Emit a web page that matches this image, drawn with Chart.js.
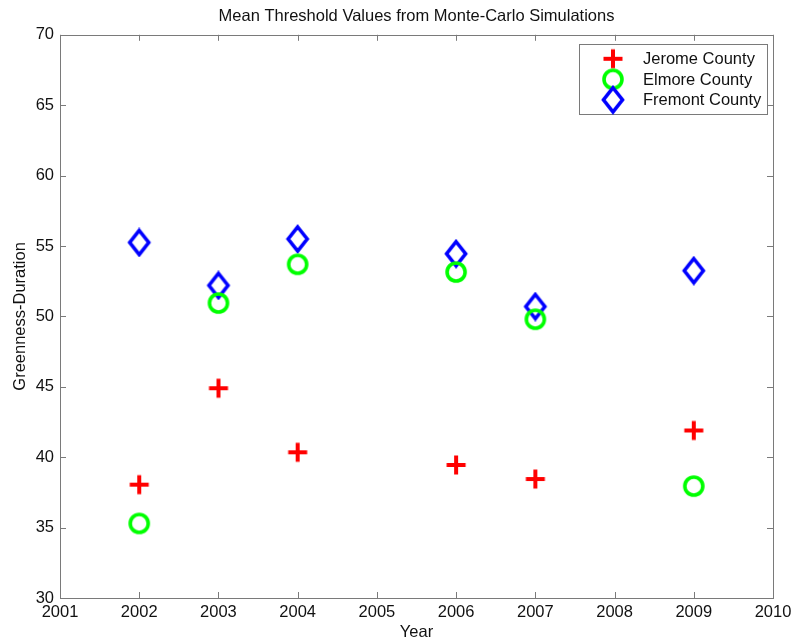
<!DOCTYPE html>
<html>
<head>
<meta charset="utf-8">
<script src="https://cdn.jsdelivr.net/npm/chart.js@4/dist/chart.umd.min.js"></script>
<style>
  html, body { margin: 0; padding: 0; background: #fff; }
  #wrap { width: 793px; height: 642px; }
</style>
</head>
<body>
<div id="wrap"><canvas id="chart" width="793" height="642"></canvas></div>
<script>
// Survey years and mean threshold values (greenness-duration) per county
const jeromeYears  = [2002, 2003, 2004, 2006, 2007, 2009];
const jeromeValues = [38.05, 44.9, 40.35, 39.45, 38.45, 41.9];
const elmoreYears  = [2002, 2003, 2004, 2006, 2007, 2009];
const elmoreValues = [35.3, 50.95, 53.7, 53.15, 49.8, 37.95];
const fremontYears  = [2002, 2003, 2004, 2006, 2007, 2009];
const fremontValues = [55.25, 52.2, 55.5, 54.45, 50.7, 53.25];

const seriesNames = ['Jerome County', 'Elmore County', 'Fremont County'];
const chartTitle = 'Mean Threshold Values from Monte-Carlo Simulations';
const xTitle = 'Year';
const yTitle = 'Greenness-Duration';
const xRange = [2001, 2010];
const yRange = [30, 70];

const FONT = '"Liberation Sans", Arial, Helvetica, sans-serif';
const FONT_SIZE = 16.5;
const AXIS_GRAY = '#7a7a7a';

// Marker glyphs drawn onto small canvases and used as point styles
function makeMarker(kind, color) {
  const c = document.createElement('canvas');
  const w = kind === 'diamond' ? 26 : 24;
  const h = kind === 'diamond' ? 30 : 24;
  c.width = w; c.height = h;
  const g = c.getContext('2d');
  g.strokeStyle = color;
  g.lineWidth = kind === 'cross' ? 4 : 3.6;
  g.beginPath();
  if (kind === 'cross') {
    g.moveTo(w / 2, 2.5); g.lineTo(w / 2, h - 2.5);
    g.moveTo(2.5, h / 2); g.lineTo(w - 2.5, h / 2);
  } else if (kind === 'circle') {
    g.arc(w / 2, h / 2, 9, 0, Math.PI * 2);
  } else {
    g.moveTo(w / 2, 3); g.lineTo(w - 3.5, h / 2);
    g.lineTo(w / 2, h - 3); g.lineTo(3.5, h / 2);
    g.closePath();
  }
  g.stroke();
  return c;
}

const crossRed = makeMarker('cross', '#ff0000');
const ringGreen = makeMarker('circle', '#00ff00');
const diamondBlue = makeMarker('diamond', '#0000ff');

function pts(xs, ys) { return xs.map((x, i) => ({ x: x, y: ys[i] })); }

// Axes box with inward ticks on all four sides
const boxTicks = {
  id: 'boxTicks',
  beforeDatasetsDraw(chart) {
    const { ctx, chartArea: a, scales } = chart;
    ctx.save();
    ctx.strokeStyle = AXIS_GRAY;
    ctx.lineWidth = 1;
    ctx.strokeRect(Math.round(a.left) + 0.5, Math.round(a.top) + 0.5,
                   Math.round(a.right - a.left), Math.round(a.bottom - a.top));
    const len = 6;
    ctx.beginPath();
    scales.x.ticks.forEach(t => {
      const px = Math.round(scales.x.getPixelForValue(t.value)) + 0.5;
      ctx.moveTo(px, a.bottom); ctx.lineTo(px, a.bottom - len);
      ctx.moveTo(px, a.top); ctx.lineTo(px, a.top + len);
    });
    scales.y.ticks.forEach(t => {
      const py = Math.round(scales.y.getPixelForValue(t.value)) + 0.5;
      ctx.moveTo(a.left, py); ctx.lineTo(a.left + len, py);
      ctx.moveTo(a.right, py); ctx.lineTo(a.right - len, py);
    });
    ctx.stroke();
    ctx.restore();
  }
};

// Boxed legend in the upper right corner of the plot area
const insetLegend = {
  id: 'insetLegend',
  afterDatasetsDraw(chart) {
    const { ctx, chartArea: a } = chart;
    const boxRight = a.right - 6, boxTop = a.top + 9;
    const boxW = 188, boxH = 70, rowH = 20.5;
    const boxLeft = boxRight - boxW;
    ctx.save();
    ctx.fillStyle = '#fff';
    ctx.fillRect(boxLeft, boxTop, boxW, boxH);
    ctx.strokeStyle = AXIS_GRAY;
    ctx.lineWidth = 1;
    ctx.strokeRect(Math.round(boxLeft) + 0.5, Math.round(boxTop) + 0.5, boxW, boxH);
    ctx.font = FONT_SIZE + 'px ' + FONT;
    ctx.fillStyle = '#111';
    ctx.textBaseline = 'middle';
    chart.data.datasets.forEach((ds, i) => {
      const cy = boxTop + 15 + i * rowH;
      const img = ds.pointStyle;
      ctx.drawImage(img, boxLeft + 34 - img.width / 2, cy - img.height / 2);
      ctx.fillText(ds.label, boxLeft + 64, cy + 1);
    });
    ctx.restore();
  }
};

new Chart(document.getElementById('chart'), {
  type: 'scatter',
  data: {
    datasets: [
      { label: seriesNames[0], data: pts(jeromeYears, jeromeValues), pointStyle: crossRed },
      { label: seriesNames[1], data: pts(elmoreYears, elmoreValues), pointStyle: ringGreen },
      { label: seriesNames[2], data: pts(fremontYears, fremontValues), pointStyle: diamondBlue }
    ]
  },
  options: {
    responsive: false,
    animation: false,
    events: [],
    layout: { padding: { left: 0, right: 20, top: 0, bottom: 0 } },
    plugins: {
      legend: { display: false },
      tooltip: { enabled: false },
      title: {
        display: true,
        fullSize: false,
        text: chartTitle,
        color: '#111',
        font: { family: FONT, size: FONT_SIZE, weight: 'normal', lineHeight: 1.2 },
        padding: { top: 7, bottom: 8 }
      }
    },
    scales: {
      x: {
        type: 'linear',
        min: xRange[0], max: xRange[1],
        grid: { display: false, drawTicks: false },
        border: { display: false },
        ticks: {
          stepSize: 1,
          padding: 5,
          color: '#111',
          font: { family: FONT, size: FONT_SIZE },
          callback: v => String(v)
        },
        title: {
          display: true, text: xTitle, color: '#111',
          font: { family: FONT, size: FONT_SIZE },
          padding: { top: 0, bottom: 0 }
        },
        afterFit(s) { s.height = 44; s.paddingLeft = 0; s.paddingRight = 0; }
      },
      y: {
        min: yRange[0], max: yRange[1],
        grid: { display: false, drawTicks: false },
        border: { display: false },
        ticks: {
          stepSize: 5,
          padding: 6,
          color: '#111',
          font: { family: FONT, size: FONT_SIZE }
        },
        title: {
          display: true, text: yTitle, color: '#111',
          font: { family: FONT, size: FONT_SIZE },
          padding: { top: 11, bottom: 0 }
        },
        afterFit(s) { s.width = 60; }
      }
    }
  },
  plugins: [boxTicks, insetLegend]
});
</script>
</body>
</html>
